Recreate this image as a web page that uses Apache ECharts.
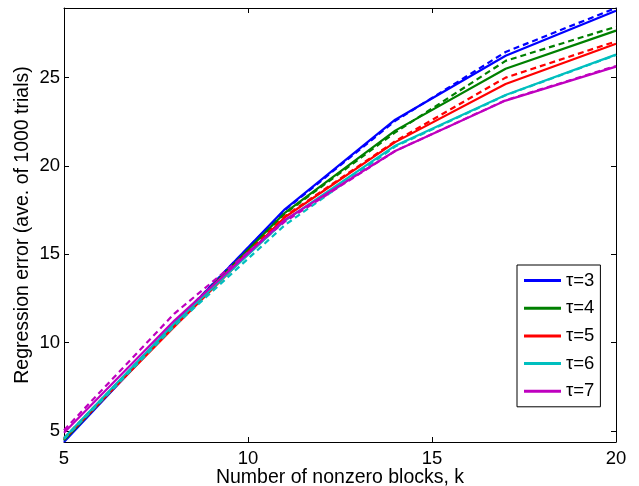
<!DOCTYPE html>
<html>
<head>
<meta charset="utf-8">
<script src="https://cdn.jsdelivr.net/npm/echarts@6/dist/echarts.min.js"></script>
<style>
html,body{margin:0;padding:0;background:#fff;}
#chart{width:639px;height:486px;}
</style>
</head>
<body>
<div id="chart"></div>
<script>
// ---- data ----
const ks = [5, 8, 11, 14, 17, 20];
const tauNames = ['τ=3', 'τ=4', 'τ=5', 'τ=6', 'τ=7'];
const tau3Solid  = [4.38, 11.05, 17.55, 22.62, 26.24, 28.78];
const tau3Dashed = [4.45, 11.10, 17.50, 22.55, 26.45, 28.94];
const tau4Solid  = [4.48, 11.05, 17.35, 22.00, 25.50, 27.66];
const tau4Dashed = [4.52, 11.10, 17.30, 21.90, 25.95, 27.88];
const tau5Solid  = [4.55, 10.90, 17.10, 21.35, 24.64, 26.92];
const tau5Dashed = [4.60, 11.05, 17.15, 21.40, 25.00, 27.05];
const tau6Solid  = [4.60, 11.10, 16.90, 21.15, 24.02, 26.30];
const tau6Dashed = [4.55, 10.95, 16.65, 21.10, 24.00, 26.28];
const tau7Solid  = [4.90, 11.25, 16.95, 20.85, 23.70, 25.62];
const tau7Dashed = [5.05, 11.65, 16.85, 20.85, 23.72, 25.66];
const xTicks = [5, 10, 15, 20];
const yRange = [4.38, 28.94];

const solids = [tau3Solid, tau4Solid, tau5Solid, tau6Solid, tau7Solid];
const dashes = [tau3Dashed, tau4Dashed, tau5Dashed, tau6Dashed, tau7Dashed];
const colors = ['#0000ff', '#008000', '#ff0000', '#00bfbf', '#bf00bf'];
const font = "'Liberation Sans', Arial, Helvetica, sans-serif";

const pairs = arr => arr.map((v, i) => [ks[i], v]);
const series = [];
for (let i = 0; i < 5; i++) {
  series.push({
    name: tauNames[i], type: 'line', data: pairs(solids[i]), symbol: 'none',
    lineStyle: { color: colors[i], width: 2.2 }, itemStyle: { color: colors[i] },
    xAxisIndex: 0, yAxisIndex: 0, z: 2 + i * 2
  });
  series.push({
    name: tauNames[i] + ' dashed', type: 'line', data: pairs(dashes[i]), symbol: 'none',
    lineStyle: { color: colors[i], width: 2.2, type: [6, 4] }, itemStyle: { color: colors[i] },
    xAxisIndex: 0, yAxisIndex: 0, z: 3 + i * 2
  });
}

const axisLineStyle = { lineStyle: { color: '#000', width: 1 } };
const chart = echarts.init(document.getElementById('chart'), null, { renderer: 'canvas' });
chart.setOption({
  animation: false,
  backgroundColor: '#fff',
  textStyle: { fontFamily: font },
  grid: { left: 64, right: 23, top: 8, bottom: 44, containLabel: false, outerBoundsMode: 'none' },
  legend: {
    data: tauNames,
    orient: 'vertical',
    left: 517, top: 265,
    icon: 'rect', itemWidth: 37, itemHeight: 3, itemGap: 6.7,
    padding: [5, 6, 5, 7],
    borderColor: '#000', borderWidth: 1, backgroundColor: '#fff',
    textStyle: { fontFamily: font, fontSize: 18.5, color: '#000', lineHeight: 21 },
    z: 20
  },
  xAxis: [
    {
      type: 'value', min: xTicks[0], max: xTicks[xTicks.length - 1], interval: 5,
      position: 'bottom',
      name: 'Number of nonzero blocks, k', nameLocation: 'middle', nameGap: 26, nameMoveOverlap: false,
      nameTextStyle: { fontFamily: font, fontSize: 19.5, color: '#000' },
      axisLine: axisLineStyle,
      axisTick: { inside: true, length: 5, lineStyle: { color: '#000' } },
      axisLabel: { fontFamily: font, fontSize: 18.5, color: '#000', margin: 7 },
      splitLine: { show: false }
    },
    {
      type: 'value', min: xTicks[0], max: xTicks[xTicks.length - 1], interval: 5,
      position: 'top',
      axisLine: axisLineStyle,
      axisTick: { inside: true, length: 5, lineStyle: { color: '#000' } },
      axisLabel: { show: false },
      splitLine: { show: false }
    }
  ],
  yAxis: [
    {
      type: 'value', min: yRange[0], max: yRange[1], splitNumber: 5,
      position: 'left',
      name: 'Regression error (ave. of 1000 trials)', nameLocation: 'middle', nameGap: 31, nameMoveOverlap: false,
      nameTextStyle: { fontFamily: font, fontSize: 19.5, color: '#000' },
      axisLine: axisLineStyle,
      axisTick: { inside: true, length: 5, lineStyle: { color: '#000' } },
      axisLabel: { fontFamily: font, fontSize: 18.5, color: '#000', margin: 4, showMinLabel: false, showMaxLabel: false },
      splitLine: { show: false }
    },
    {
      type: 'value', min: yRange[0], max: yRange[1], splitNumber: 5,
      position: 'right',
      axisLine: axisLineStyle,
      axisTick: { inside: true, length: 5, lineStyle: { color: '#000' } },
      axisLabel: { show: false },
      splitLine: { show: false }
    }
  ],
  series: series
});
</script>
</body>
</html>
